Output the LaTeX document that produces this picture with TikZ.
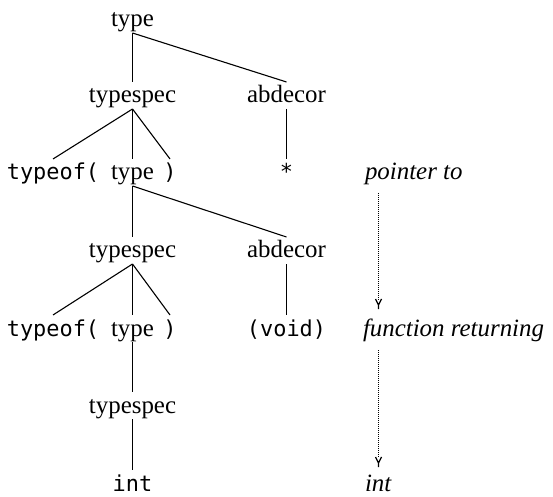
\documentclass[tikz,border=0pt]{standalone}
\usepackage{fontspec}
\setmainfont{Liberation Serif}
\setmonofont{DejaVu Sans Mono}
\usetikzlibrary{calc}

\begin{document}
\begin{tikzpicture}[x=0.5bp,y=-0.5bp,
  lbl/.style={inner sep=0pt, outer sep=0pt, text height=10.5bp, text depth=3bp,
              anchor=base, font=\fontsize{12.5}{15}\selectfont},
  code/.style={lbl, font=\fontsize{11}{13}\ttfamily},
  note/.style={lbl, anchor=base west, font=\fontsize{12.5}{15}\itshape},
  edge/.style={line width=0.55bp},
  flow/.style={line width=0.6bp, dash pattern=on 0.55bp off 0.45bp},
  ytip/.style={line width=0.6bp}]
  \useasboundingbox (0,0) rectangle (553,497);

  % parse tree, row by row
  \node[lbl]  (root) at (132.5,27)  {type};
  \node[lbl]  (ts2)  at (132.5,103) {typespec};
  \node[lbl]  (ab2)  at (286.5,103) {abdecor};

  \node[code] (lp3)  at (53,180)    {typeof(};
  \node[lbl]  (t3)   at (132.5,180) {type};
  \node[code] (rp3)  at (170,180)   {)};
  \node[code] (star) at (286.5,180) {*};

  \node[lbl]  (ts4)  at (132.5,258) {typespec};
  \node[lbl]  (ab4)  at (286.5,258) {abdecor};

  \node[code] (lp5)  at (53,336)    {typeof(};
  \node[lbl]  (t5)   at (132.5,336) {type};
  \node[code] (rp5)  at (170,336)   {)};
  \node[code] (void) at (286.5,336) {(void)};

  \node[lbl]  (ts6)  at (132.5,413) {typespec};
  \node[code] (int)  at (132.5,491) {int};

  % branches
  \draw[edge] (root.south) -- (ts2.north);
  \draw[edge] (root.south) -- (ab2.north);
  \draw[edge] (ts2.south) -- (lp3.north);
  \draw[edge] (ts2.south) -- (t3.north);
  \draw[edge] (ts2.south) -- (rp3.north);
  \draw[edge] (ab2.south) -- (star.north);
  \draw[edge] (t3.south) -- (ts4.north);
  \draw[edge] (t3.south) -- (ab4.north);
  \draw[edge] (ts4.south) -- (lp5.north);
  \draw[edge] (ts4.south) -- (t5.north);
  \draw[edge] (ts4.south) -- (rp5.north);
  \draw[edge] (ab4.south) -- (void.north);
  \draw[edge] (t5.south) -- (ts6.north);
  \draw[edge] (ts6.south) -- (int.north);

  % reading of the declaration
  \node[note] (pt) at (365,180) {pointer to};
  \node[note] (fr) at (363,336) {function returning};
  \node[note] (it) at (365,491) {int};
  \coordinate (ax) at (378.5,0);

  \coordinate (s1) at ($(pt.south -| ax)+(0,7)$);
  \coordinate (e1) at ($(fr.north -| ax)+(0,-6)$);
  \coordinate (s2) at ($(fr.south -| ax)+(0,8)$);
  \coordinate (e2) at ($(it.north -| ax)+(0,-3)$);

  % dotted runs ending in a small Y-shaped head
  \draw[flow] (s1) -- ($(e1)+(0,-9)$);
  \draw[ytip] ($(e1)+(-3,-10)$) -- ($(e1)+(0,-4)$) -- ($(e1)+(3,-10)$)
              ($(e1)+(0,-4)$) -- (e1);
  \draw[flow] (s2) -- ($(e2)+(0,-9)$);
  \draw[ytip] ($(e2)+(-3,-10)$) -- ($(e2)+(0,-4)$) -- ($(e2)+(3,-10)$)
              ($(e2)+(0,-4)$) -- (e2);
\end{tikzpicture}
\end{document}
